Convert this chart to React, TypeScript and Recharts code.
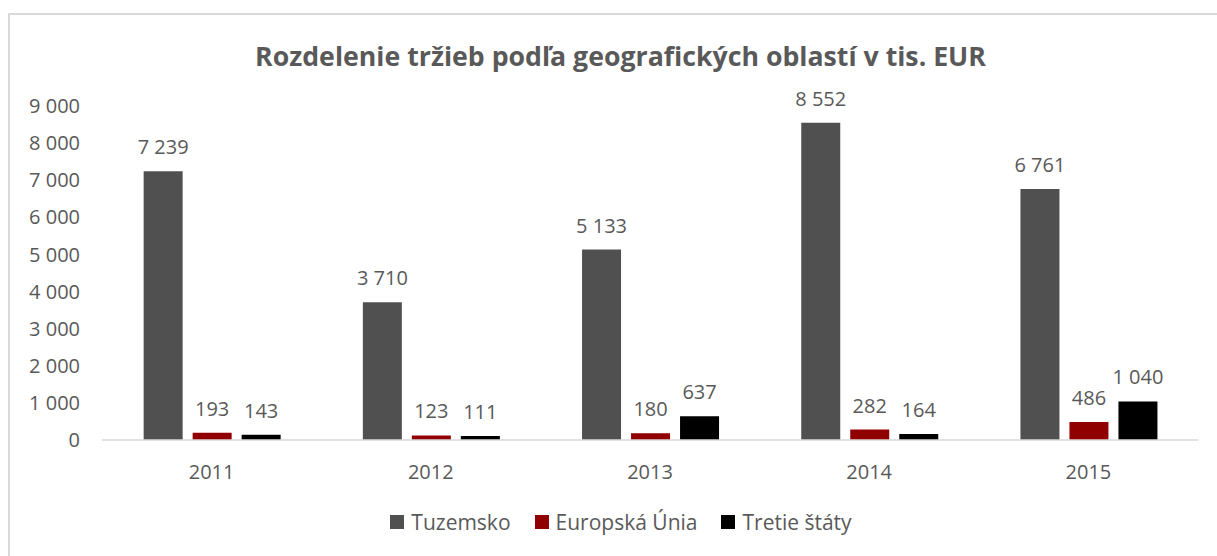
import React from "react";
import { BarChart, Bar, XAxis, YAxis, Legend, LabelList } from "recharts";

const years = ["2011", "2012", "2013", "2014", "2015"];
const tuzemsko = [7239, 3710, 5133, 8552, 6761];
const europskaUnia = [193, 123, 180, 282, 486];
const tretieStaty = [143, 111, 637, 164, 1040];
const yTicks = [0, 1000, 2000, 3000, 4000, 5000, 6000, 7000, 8000, 9000];

const series = [
  { key: "tuzemsko", name: "Tuzemsko", color: "#505050" },
  { key: "eu", name: "Europská Únia", color: "#900000" },
  { key: "tretie", name: "Tretie štáty", color: "#000000" },
];

const data = years.map((year, i) => ({
  year,
  tuzemsko: tuzemsko[i],
  eu: europskaUnia[i],
  tretie: tretieStaty[i],
}));

const FONT = "'Open Sans', 'Noto Sans', sans-serif";
const TEXT = "#595959";

// thousands separated by a space, like the source
const fmt = (v: any) => String(v).replace(/\B(?=(\d{3})+(?!\d))/g, " ");

// own label so the text doesn't wrap to the bar width
const renderLabel = (props: any) => {
  const { x, y, width, value } = props;
  return (
    <text
      x={Number(x) + Number(width) / 2}
      y={Number(y) - 17}
      textAnchor="middle"
      fill={TEXT}
      fontSize={20}
      fontFamily={FONT}
    >
      {fmt(value)}
    </text>
  );
};

const LegendContent = () => (
  <div
    style={{
      display: "flex",
      justifyContent: "center",
      alignItems: "center",
      height: 36,
      fontFamily: FONT,
      fontSize: 21,
      color: TEXT,
      paddingLeft: 34,
    }}
  >
    {series.map((s) => (
      <div key={s.key} style={{ display: "flex", alignItems: "center", margin: "0 12px" }}>
        <span style={{ width: 14, height: 14, background: s.color, marginRight: 7 }} />
        <span>{s.name}</span>
      </div>
    ))}
  </div>
);

export default function App() {
  return (
    <div
      style={{
        position: "fixed",
        left: 0,
        top: 0,
        width: 1217,
        height: 556,
        overflow: "hidden",
        background: "#fff",
      }}
    >
      <div
        style={{
          position: "absolute",
          left: 8,
          top: 13,
          width: 1260,
          height: 600,
          borderTop: "2px solid #d9d9d9",
          borderLeft: "2px solid #d9d9d9",
        }}
      />
      <div
        style={{
          position: "absolute",
          left: 10,
          top: 37,
          width: 1207,
          textAlign: "center",
          fontFamily: FONT,
          fontWeight: 700,
          fontSize: 26.7,
          color: TEXT,
          paddingLeft: 14,
          boxSizing: "border-box",
        }}
      >
        Rozdelenie tržieb podľa geografických oblastí v tis. EUR
      </div>
      <div style={{ position: "absolute", left: 10, top: 15 }}>
        <BarChart
          width={1207}
          height={541}
          data={data}
          margin={{ top: 91, right: 19, left: 0, bottom: 16 }}
          barCategoryGap="19%"
          barGap={10}
        >
          <XAxis
            dataKey="year"
            height={64}
            axisLine={{ stroke: "#d9d9d9", strokeWidth: 1.5 }}
            tickLine={false}
            tickMargin={19}
            tick={{ fill: TEXT, fontSize: 20, fontFamily: FONT }}
          />
          <YAxis
            width={92}
            domain={[0, 9000]}
            ticks={yTicks}
            interval={0}
            axisLine={false}
            tickLine={false}
            tickMargin={16}
            tickFormatter={fmt}
            tick={{ fill: TEXT, fontSize: 20, fontFamily: FONT }}
          />
          <Legend verticalAlign="bottom" content={<LegendContent />} />
          {series.map((s) => (
            <Bar key={s.key} dataKey={s.key} name={s.name} fill={s.color} isAnimationActive={false}>
              <LabelList dataKey={s.key} content={renderLabel} />
            </Bar>
          ))}
        </BarChart>
      </div>
    </div>
  );
}
